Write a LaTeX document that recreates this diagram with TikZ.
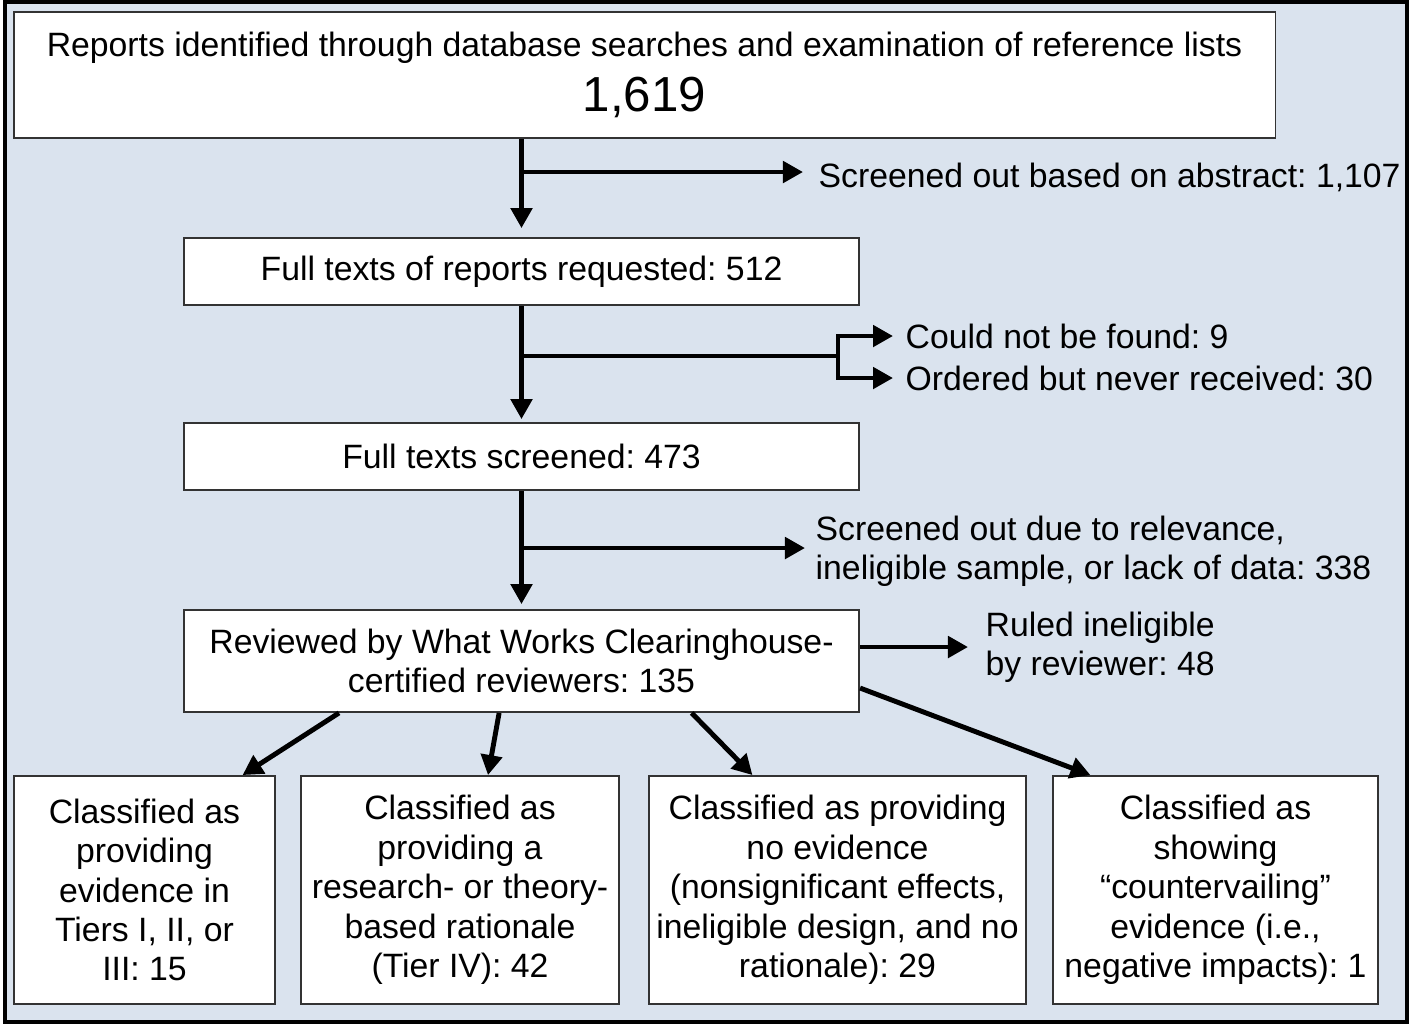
\documentclass[tikz,border=0pt]{standalone}
\usepackage{fontspec}
\setmainfont{Liberation Sans}
\usetikzlibrary{arrows.meta}
\usetikzlibrary{positioning}
\tikzset{box/.style = {draw=black!80, line width=0.5pt, fill=white,
                       align=center, inner sep=0}}
\tikzset{arr/.style = {line width=1.4pt,
                       -{Triangle[length=0.2cm, width=0.21cm]}}}
\tikzset{lbl/.style = {anchor=west, align=left, inner sep=0}}
\definecolor{panelblue}{RGB}{218, 227, 238}
\newcommand{\flowfont}{\frenchspacing\fontsize{9.6}{11.2}\selectfont}

\begin{document}
\begin{tikzpicture}[x=0.01cm, y=-0.01cm, font=\flowfont]
      \useasboundingbox (0, 0) rectangle (1410, 1026);
      \draw [fill=panelblue, line width=1.4pt] (5, 2) rectangle (1407, 1022);
      \node [box, minimum width=12.61cm, minimum height=1.26cm] (reports) at (644.5, 75)
            {Reports identified through database searches and examination of reference lists\\[3pt]
             {\fontsize{14}{16}\selectfont 1,619}};
      \node [box, minimum width=6.75cm, minimum height=0.67cm] (requested) at (521.5, 271.5)
            {Full texts of reports requested: 512};
      \node [box, minimum width=6.75cm, minimum height=0.67cm] (screened) at (521.5, 456.5)
            {Full texts screened: 473};
      \node [box, minimum width=6.75cm, minimum height=1.02cm] (reviewed) at (521.5, 661)
            {Reviewed by What Works Clearinghouse-\\certified reviewers: 135};
      \node [box, minimum width=2.61cm, minimum height=2.28cm] (tierA) at (144.5, 890)
            {Classified as\\providing\\evidence in\\Tiers I, II, or\\III: 15};
      \node [box, minimum width=3.18cm, minimum height=2.28cm] (tierB) at (460, 890)
            {Classified as\\providing a\\research- or theory-\\based rationale\\(Tier IV): 42};
      \node [box, minimum width=3.77cm, minimum height=2.28cm] (noevid) at (837.5, 890)
            {Classified as providing\\no evidence\\(nonsignificant effects,\\ineligible design, and no\\rationale): 29};
      \node [box, minimum width=3.25cm, minimum height=2.28cm] (counter) at (1215.5, 890)
            {Classified as\\showing\\“countervailing”\\evidence (i.e.,\\negative impacts): 1};
      % side labels
      \node [lbl] (abstract) at (818, 177) {Screened out based on abstract: 1,107};
      \node [lbl] (notfound) at (905, 336) {Could not be found: 9};
      \node [lbl] (received) at (905, 378) {Ordered but never received: 30};
      \node [lbl] (relevance) at (815, 551) {Screened out due to relevance,\\ineligible sample, or lack of data: 338};
      \node [lbl] (ineligible) at (985, 647) {Ruled ineligible\\by reviewer: 48};
      % main flow
      \draw [arr, shorten >=0.09cm] (reports.south -| requested.north) -- (requested.north);
      \draw [arr, shorten >=0.03cm] (requested.south) -- (screened.north);
      \draw [arr, shorten >=0.05cm] (screened.south) -- (reviewed.north);
      % branches
      \coordinate (split1) at (521.5, 172);
      \draw [arr, shorten >=0.15cm] (split1) -- (split1 -| abstract.west);
      \coordinate (split2) at (521.5, 356);
      \coordinate (fork) at (838, 356);
      \draw [line width=1.4pt] (split2) -- (fork);
      \draw [arr, shorten >=0.12cm] (fork) |- (notfound.west);
      \draw [arr, shorten >=0.12cm] (fork) |- (received.west);
      \coordinate (split3) at (521.5, 548);
      \draw [arr, shorten >=0.10cm] (split3) -- (split3 -| relevance.west);
      \draw [arr, shorten >=0.17cm] (ineligible.west -| reviewed.east) -- (ineligible.west);
      % classification
      \draw [arr] ([xshift=1.56cm]reviewed.south west) -- ([xshift=0.98cm]tierA.north);
      \draw [arr] ([xshift=3.16cm]reviewed.south west) -- ([xshift=0.28cm]tierB.north);
      \draw [arr] ([xshift=1.70cm]reviewed.south) -- ([xshift=-0.85cm]noevid.north);
      \draw [arr] ([yshift=-0.27cm]reviewed.east) -- ([xshift=-1.25cm]counter.north);
\end{tikzpicture}
\end{document}
